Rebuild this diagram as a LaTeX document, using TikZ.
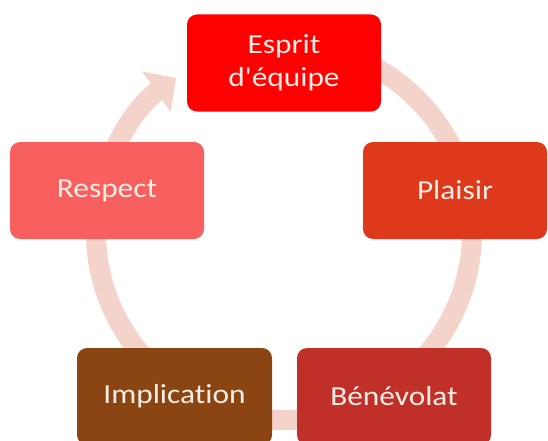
\documentclass[tikz,border=0pt]{standalone}
\usepackage{fontspec}
\setmainfont{Carlito}
\newfontfamily\boxfont[FakeStretch=1.14,Ligatures={NoCommon}]{Carlito}
\usetikzlibrary{arrows.meta}
\definecolor{bandc}{RGB}{244,212,202}
\definecolor{cEsprit}{RGB}{255,0,0}
\definecolor{cPlaisir}{RGB}{221,57,26}
\definecolor{cRespect}{RGB}{248,96,96}
\definecolor{cImpl}{RGB}{139,69,19}
\definecolor{cBene}{RGB}{192,48,40}
\definecolor{ctext}{RGB}{252,238,230}
\tikzset{
  cyclebox/.style={rounded corners=10pt, minimum width=194pt, minimum height=97pt,
    inner sep=0pt, text=ctext, align=center,
    font=\boxfont\fontsize{27.5}{33}\selectfont},
  band/.style={draw=bandc, line width=20pt}
}
\begin{document}
\begin{tikzpicture}[x=1pt,y=1pt]
\useasboundingbox (0,0) rectangle (548,440);
\clip (0,0) rectangle (548,440);
\coordinate (c) at (284,208);
\draw[band, -{Triangle[length=24pt,width=48pt]}] ([shift={(80:188)}]c) arc[start angle=80, end angle=-235, radius=188];
\node[cyclebox, fill=cEsprit] (esprit) at (284,377) {Esprit\\d'équipe};
\node[cyclebox, fill=cPlaisir, minimum width=184pt] (plaisir) at (455,249.5) {Plaisir};
\node[cyclebox, fill=cRespect] (respect) at (107,249.5) {Respect};
\node[cyclebox, fill=cImpl, minimum width=195pt] (impl) at (174.5,43.5) {Implication};
\node[cyclebox, fill=cBene] (bene) at (394,43.5) {Bénévolat};
\end{tikzpicture}
\end{document}
